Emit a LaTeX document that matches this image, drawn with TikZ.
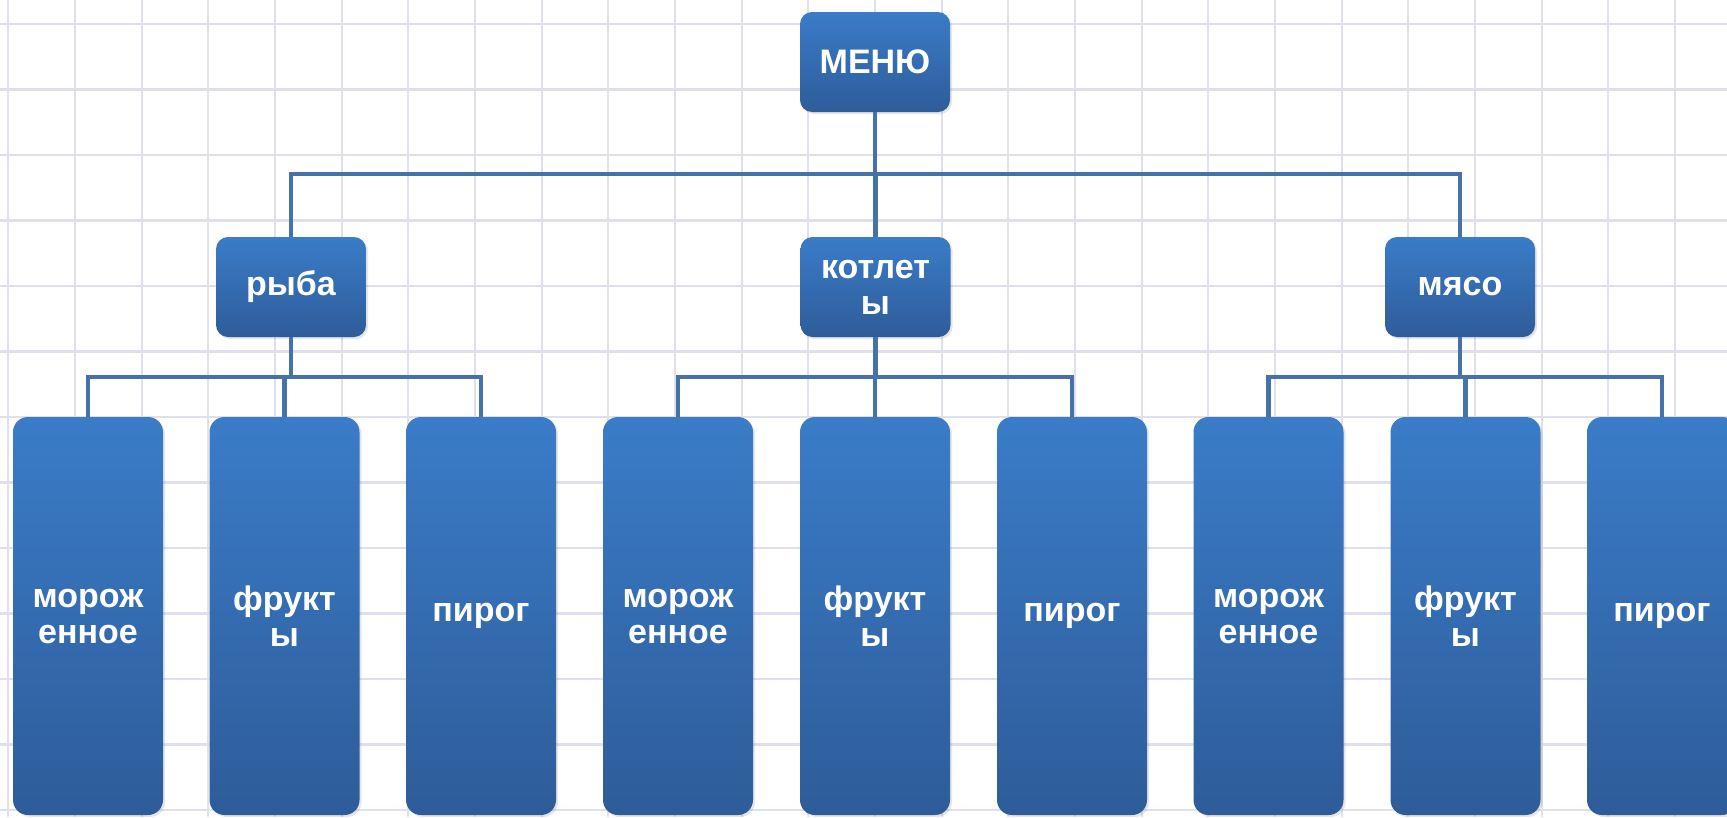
\documentclass[tikz,border=0pt]{standalone}
\usepackage{fontspec}
\setmainfont{Liberation Sans}
\usetikzlibrary{shadows}
\definecolor{gridc}{RGB}{224,224,236}
\definecolor{boxtop}{RGB}{58,124,200}
\definecolor{boxbot}{RGB}{46,92,153}
\definecolor{linec}{RGB}{70,114,170}
\tikzset{
  box/.style={rectangle, rounded corners=12pt, top color=boxtop, bottom color=boxbot,
    draw=none, text=white, align=center, inner sep=0pt,
    font=\fontsize{34}{36}\selectfont\bfseries,
    drop shadow={opacity=0.2, shadow xshift=2pt, shadow yshift=-2pt}},
  topbox/.style={box, minimum width=150pt, minimum height=100pt},
  leafbox/.style={box, rounded corners=15pt, minimum width=150pt, minimum height=398pt},
  conn/.style={draw=linec, line width=4.5pt, line join=miter},
  gridline/.style={draw=gridc, line width=2.2pt}
}
\begin{document}
\begin{tikzpicture}[x=1pt,y=1pt]
\useasboundingbox (0,0) rectangle (1727,-817);
\fill[white] (0,0) rectangle (1727,-817);
% grid
\foreach \k in {0,...,25} {
  \draw[gridline] ({8.3+66.67*\k},0) -- ({8.3+66.67*\k},-817);
}
\foreach \k in {0,...,12} {
  \draw[gridline] (0,{-24-65.5*\k}) -- (1727,{-24-65.5*\k});
}
% coordinates for bus levels
\coordinate (bus0) at (0,-174);
\coordinate (bus1) at (0,-377);
% nodes
\node[topbox] (menu) at (875,-62) {МЕНЮ};
\node[topbox] (ryba) at (291,-287) {рыба};
\node[topbox] (kotl) at (875.5,-287) {котлет\\ы};
\node[topbox] (myaso) at (1460,-287) {мясо};
\node[leafbox] (l1) at (88,-616) {морож\\енное};
\node[leafbox] (l2) at (284.5,-616) {фрукт\\ы};
\node[leafbox] (l3) at (481,-616) {пирог};
\node[leafbox] (l4) at (678,-616) {морож\\енное};
\node[leafbox] (l5) at (875,-616) {фрукт\\ы};
\node[leafbox] (l6) at (1072,-616) {пирог};
\node[leafbox] (l7) at (1268.5,-616) {морож\\енное};
\node[leafbox] (l8) at (1465.5,-616) {фрукт\\ы};
\node[leafbox] (l9) at (1662,-616) {пирог};
% connectors
\draw[conn] (menu.south) -- (menu.south |- bus0);
\draw[conn] (ryba.north) -- (ryba.north |- bus0) -- (myaso.north |- bus0) -- (myaso.north);
\draw[conn] (kotl.north) -- (kotl.north |- bus0);
\draw[conn] (ryba.south) -- (ryba.south |- bus1);
\draw[conn] (kotl.south) -- (kotl.south |- bus1);
\draw[conn] (myaso.south) -- (myaso.south |- bus1);
\draw[conn] (l1.north) -- (l1.north |- bus1) -- (l3.north |- bus1) -- (l3.north);
\draw[conn] (l2.north) -- (l2.north |- bus1);
\draw[conn] (l4.north) -- (l4.north |- bus1) -- (l6.north |- bus1) -- (l6.north);
\draw[conn] (l5.north) -- (l5.north |- bus1);
\draw[conn] (l7.north) -- (l7.north |- bus1) -- (l9.north |- bus1) -- (l9.north);
\draw[conn] (l8.north) -- (l8.north |- bus1);
\end{tikzpicture}
\end{document}
